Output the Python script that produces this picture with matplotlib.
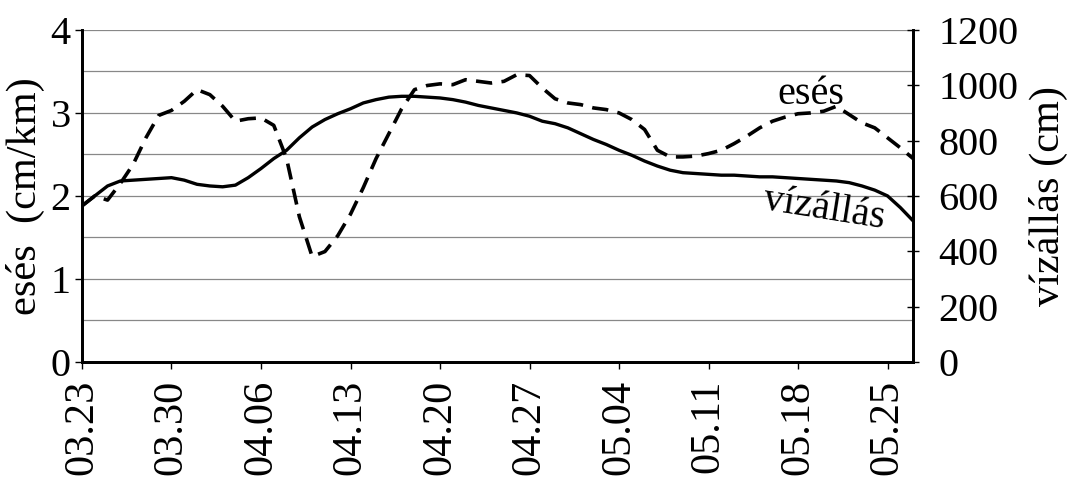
import matplotlib
matplotlib.use("Agg")
import matplotlib.pyplot as plt
import matplotlib.dates as mdates
import numpy as np
import pandas as pd

# daily values, 03.23 - 05.27
START_DATE = "2000-03-23"
TICK_LABELS = ["03.23", "03.30", "04.06", "04.13", "04.20",
               "04.27", "05.04", "05.11", "05.18", "05.25"]

# esés (cm/km), left axis
eses = [1.88, 2.00, 1.95, 2.15, 2.38, 2.70, 2.97, 3.03, 3.14, 3.28,
        3.22, 3.08, 2.90, 2.93, 2.94, 2.85, 2.45, 1.75, 1.27, 1.33,
        1.52, 1.78, 2.10, 2.45, 2.75, 3.05, 3.28, 3.33, 3.35, 3.34,
        3.40, 3.38, 3.36, 3.38, 3.46, 3.45, 3.30, 3.17, 3.12, 3.10,
        3.06, 3.04, 3.00, 2.92, 2.80, 2.55, 2.47, 2.47, 2.48, 2.51,
        2.55, 2.63, 2.72, 2.82, 2.90, 2.95, 2.99, 3.00, 3.02, 3.08,
        2.98, 2.88, 2.82, 2.70, 2.58, 2.45]

# vízállás (cm), right axis
vizallas = [564, 600, 636, 654, 657, 660, 663, 666, 657, 642,
            636, 633, 639, 666, 699, 735, 765, 810, 849, 876,
            897, 915, 936, 948, 957, 960, 960, 957, 954, 948,
            939, 927, 918, 909, 900, 888, 870, 861, 846, 825,
            804, 786, 765, 747, 726, 708, 693, 684, 681, 678,
            675, 675, 672, 669, 669, 666, 663, 660, 657, 654,
            648, 636, 621, 600, 558, 510]

plt.rcParams["font.family"] = ["Liberation Serif", "DejaVu Serif"]
FS = 29        # horizontal texts
FS_ROT = 30.5  # rotated texts

dates = pd.date_range(START_DATE, periods=len(eses), freq="D")
tick_dates = pd.date_range(START_DATE, periods=len(TICK_LABELS), freq="7D")

fig = plt.figure(figsize=(10.73, 4.82), dpi=100)
ax = fig.add_axes([0.0764, 0.249, 0.851 - 0.0764, 0.938 - 0.249])
ax2 = ax.twinx()

ax.plot(dates, eses, color="black", lw=2.6, dashes=(4.5, 2.6))
ax2.plot(dates, vizallas, color="black", lw=2.4)

ax.set_xlim(dates[0], dates[-1])
ax.set_ylim(0, 4)
ax2.set_ylim(0, 1200)

ax.set_yticks([0, 1, 2, 3, 4])
ax.set_yticks(np.arange(0, 4.01, 0.5), minor=True)
ax.yaxis.grid(True, which="both", color="#888888", lw=0.9)
ax.tick_params(axis="y", which="minor", length=0)
ax2.set_yticks(np.arange(0, 1201, 200))

ax.set_xticks(tick_dates)
ax.set_xticklabels(TICK_LABELS, rotation=90)
ax.xaxis.set_minor_locator(mdates.DayLocator())
ax.tick_params(axis="x", which="minor", length=0)

ax.tick_params(axis="y", which="major", labelsize=FS, direction="out",
               length=5, width=1, pad=3)
ax.tick_params(axis="x", which="major", labelsize=FS_ROT, direction="out",
               length=5, width=1, pad=8)
ax2.tick_params(axis="y", labelsize=FS, direction="inout", length=8,
                width=1, pad=14)

for a in (ax, ax2):
    a.spines["top"].set_visible(False)
    for s in ("left", "right", "bottom"):
        a.spines[s].set_linewidth(2)

ax.set_ylabel("esés  (cm/km)", fontsize=FS_ROT, labelpad=4)
ax2.set_ylabel("vízállás (cm)", fontsize=FS_ROT, labelpad=8)

ax.text(dates[57], 3.22, "esés", fontsize=FS, ha="center", va="center")
ax.text(dates[58], 1.84, "vízállás", fontsize=FS, ha="center", va="center",
        rotation=-9)

fig.savefig("out.png", dpi=100)
